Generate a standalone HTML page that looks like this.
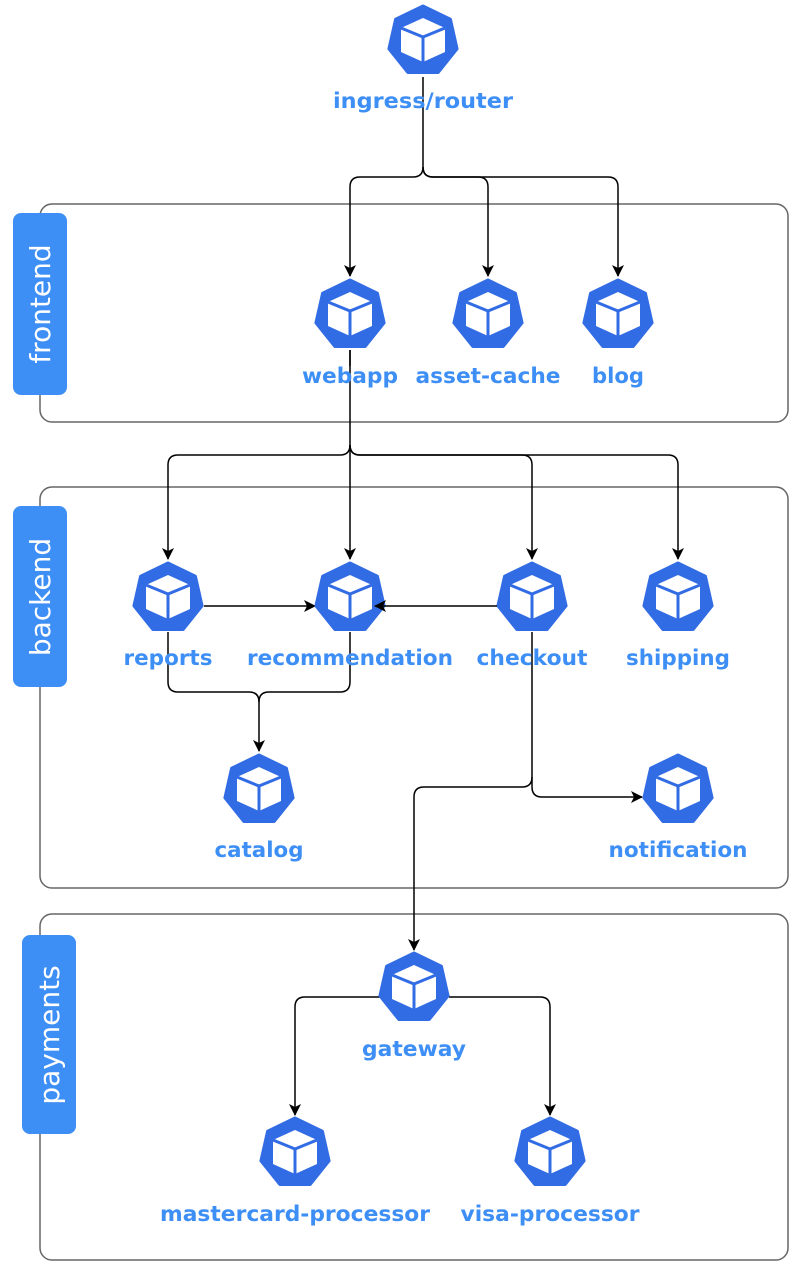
<!DOCTYPE html>
<html><head><meta charset="utf-8"><style>
body{margin:0;background:#fff}
.l{font-family:"DejaVu Sans",sans-serif;font-weight:bold;font-size:21px;fill:#3d8ef5;text-anchor:middle}
.t{font-family:"DejaVu Sans",sans-serif;font-size:28px;fill:#fff;text-anchor:middle}
.e{fill:none;stroke:#000;stroke-width:1.5}
</style></head><body>
<svg width="800" height="1275" viewBox="0 0 800 1275" xmlns="http://www.w3.org/2000/svg">
<defs>
<marker id="a" markerWidth="14" markerHeight="14" refX="11" refY="6" orient="auto" markerUnits="userSpaceOnUse"><path d="M0,0 L12,6 L0,12 L3,6 z" fill="#000"/></marker>
<g id="k">
<polygon points="0,-35 27.4,-21.8 34.1,7.8 15.2,31.5 -15.2,31.5 -34.1,7.8 -27.4,-21.8" fill="#326ce5" stroke="#326ce5" stroke-width="3" stroke-linejoin="round"/>
<polygon points="0,-23 22,-13 22,11 0,21 -22,11 -22,-13" fill="#fff"/>
<polyline points="-22,-13 0,-4 22,-13" fill="none" stroke="#326ce5" stroke-width="3"/>
<line x1="0" y1="-4" x2="0" y2="21" stroke="#326ce5" stroke-width="3"/>
</g>
</defs>
<rect x="40" y="204" width="748" height="218" rx="12" fill="none" stroke="#666" stroke-width="1.5"/>
<rect x="40" y="487" width="748" height="401" rx="12" fill="none" stroke="#666" stroke-width="1.5"/>
<rect x="40" y="914" width="748" height="346" rx="12" fill="none" stroke="#666" stroke-width="1.5"/>
<rect x="13" y="213" width="54" height="182" rx="8" fill="#3d8ef5"/>
<text class="t" transform="translate(50,304) rotate(-90)">frontend</text>
<rect x="13" y="506" width="54" height="181" rx="8" fill="#3d8ef5"/>
<text class="t" transform="translate(50,597) rotate(-90)">backend</text>
<rect x="22" y="935" width="54" height="199" rx="8" fill="#3d8ef5"/>
<text class="t" transform="translate(59,1035) rotate(-90)">payments</text>
<!-- edges -->
<path class="e" d="M423,77 V167 Q423,177 413,177 H360 Q350,177 350,187 V276" marker-end="url(#a)"/>
<path class="e" d="M423,167 Q423,177 433,177 H478 Q488,177 488,187 V276" marker-end="url(#a)"/>
<path class="e" d="M423,167 Q423,177 433,177 H608 Q618,177 618,187 V276" marker-end="url(#a)"/>
<path class="e" d="M350,350 V445 Q350,455 340,455 H178 Q168,455 168,465 V559" marker-end="url(#a)"/>
<path class="e" d="M350,445 V559" marker-end="url(#a)"/>
<path class="e" d="M350,445 Q350,455 360,455 H522 Q532,455 532,465 V559" marker-end="url(#a)"/>
<path class="e" d="M350,445 Q350,455 360,455 H668 Q678,455 678,465 V559" marker-end="url(#a)"/>
<path class="e" d="M204,606 H315" marker-end="url(#a)"/>
<path class="e" d="M168,632 V682 Q168,692 178,692 H249 Q259,692 259,702 V751" marker-end="url(#a)"/>
<path class="e" d="M350,632 V682 Q350,692 340,692 H269 Q259,692 259,702"/>
<path class="e" d="M532,632 V777 Q532,787 522,787 H424 Q414,787 414,797 V950" marker-end="url(#a)"/>
<path class="e" d="M532,777 V787 Q532,797 542,797 H642" marker-end="url(#a)"/>
<path class="e" d="M380,997 H305 Q295,997 295,1007 V1115" marker-end="url(#a)"/>
<path class="e" d="M449,997 H540 Q550,997 550,1007 V1115" marker-end="url(#a)"/>
<!-- nodes -->
<use href="#k" x="423" y="41"/><text class="l" x="423" y="108" textLength="180" lengthAdjust="spacingAndGlyphs">ingress/router</text>
<use href="#k" x="350" y="315"/><text class="l" x="350" y="383" textLength="96" lengthAdjust="spacingAndGlyphs">webapp</text>
<use href="#k" x="488" y="315"/><text class="l" x="488" y="383" textLength="145" lengthAdjust="spacingAndGlyphs">asset-cache</text>
<use href="#k" x="618" y="315"/><text class="l" x="618" y="383" textLength="52" lengthAdjust="spacingAndGlyphs">blog</text>
<use href="#k" x="168" y="598"/><text class="l" x="168" y="665" textLength="89" lengthAdjust="spacingAndGlyphs">reports</text>
<use href="#k" x="350" y="598"/><text class="l" x="350" y="665" textLength="206" lengthAdjust="spacingAndGlyphs">recommendation</text>
<use href="#k" x="532" y="598"/><text class="l" x="532" y="665" textLength="111" lengthAdjust="spacingAndGlyphs">checkout</text>
<use href="#k" x="678" y="598"/><text class="l" x="678" y="665" textLength="104" lengthAdjust="spacingAndGlyphs">shipping</text>
<use href="#k" x="259" y="790"/><text class="l" x="259" y="857" textLength="89" lengthAdjust="spacingAndGlyphs">catalog</text>
<use href="#k" x="678" y="790"/><text class="l" x="678" y="857" textLength="139" lengthAdjust="spacingAndGlyphs">notification</text>
<use href="#k" x="414" y="988"/><text class="l" x="414" y="1056" textLength="104" lengthAdjust="spacingAndGlyphs">gateway</text>
<use href="#k" x="295" y="1153"/><text class="l" x="295" y="1221" textLength="270" lengthAdjust="spacingAndGlyphs">mastercard-processor</text>
<use href="#k" x="550" y="1153"/><text class="l" x="550" y="1221" textLength="179" lengthAdjust="spacingAndGlyphs">visa-processor</text>
<!-- edges drawn over nodes -->
<path class="e" d="M350,350 V366"/>
<path class="e" d="M497,606 H375" marker-end="url(#a)"/>
</svg>
</body></html>
